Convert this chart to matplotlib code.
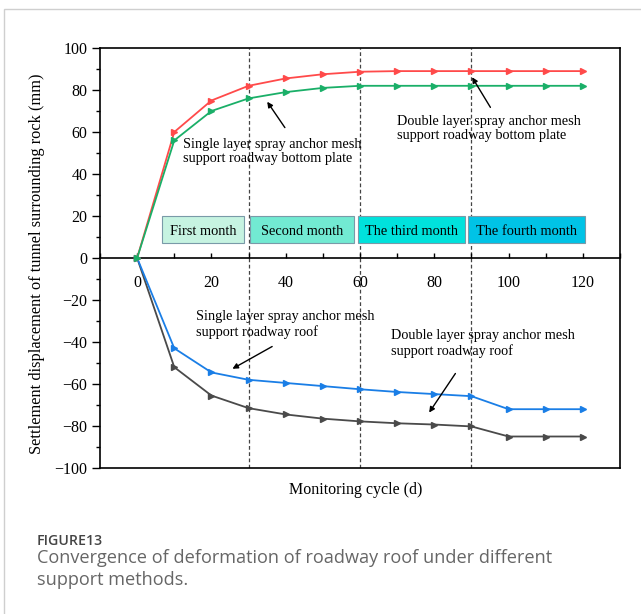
import numpy as np
import matplotlib.pyplot as plt
from matplotlib.patches import Rectangle
from matplotlib.ticker import MultipleLocator

plt.rcParams['font.family'] = ['Liberation Serif', 'DejaVu Serif']
plt.rcParams['axes.unicode_minus'] = True

# monitoring days
days = [0, 10, 20, 30, 40, 50, 60, 70, 80, 90, 100, 110, 120]
# settlement displacement (mm)
double_bottom = [0, 60, 75, 82, 85.5, 87.5, 88.7, 89, 89, 89, 89, 89, 89]
single_bottom = [0, 56, 70, 76, 79, 81, 82, 82, 82, 82, 82, 82, 82]
single_roof = [0, -43, -54.5, -58, -59.5, -61, -62.5, -63.8, -64.8, -65.8, -72, -72, -72]
double_roof = [0, -52, -65.5, -71.5, -74.5, -76.5, -77.8, -78.7, -79.3, -80.2, -85, -85, -85]

months = ['First month', 'Second month', 'The third month', 'The fourth month']
month_x0 = [6.6, 30.4, 59.4, 89.2]
month_x1 = [28.8, 58.5, 88.3, 120.5]
month_colors = ['#c6f3e1', '#72ead2', '#00e2dc', '#00c3e6']
month_lines = [30, 60, 90]

fig = plt.figure(figsize=(6.41, 6.14), dpi=100)
ax = fig.add_axes([100 / 641, 1 - 468 / 614, 520 / 641, 420 / 614])

# roof lines first so the green marker sits on top at day 0
ax.plot(days, double_roof, color='#4a4a4a', marker='>', ms=5, lw=1.3, zorder=3)
ax.plot(days, single_roof, color='#1a7ee6', marker='>', ms=5, lw=1.3, zorder=3)
ax.plot(days, double_bottom, color='#ff4a4a', marker='>', ms=5, lw=1.3, zorder=3)
ax.plot(days, single_bottom, color='#1aaf68', marker='>', ms=5, lw=1.3, zorder=3)

for xv in month_lines:
    ax.axvline(xv, color='#444444', lw=0.9, ls=(0, (3, 2)), zorder=1)

for name, a, b, c in zip(months, month_x0, month_x1, month_colors):
    ax.add_patch(Rectangle((a, 7), b - a, 13, facecolor=c, edgecolor='#7a9aa8', lw=0.8, zorder=2))
    ax.text((a + b) / 2, 12.8, name, ha='center', va='center', fontsize=10.4, zorder=4)

arrow = dict(arrowstyle='-|>', color='black', lw=1.0, mutation_scale=8)
ax.annotate('', xy=(34.6, 75.5), xytext=(40.2, 61), arrowprops=arrow)
ax.text(12.3, 50.7, 'Single layer spray anchor mesh\nsupport roadway bottom plate',
        ha='left', va='center', fontsize=10.3, linespacing=1.15, zorder=4)
ax.annotate('', xy=(89.8, 87.2), xytext=(95.5, 70.6), arrowprops=arrow)
ax.text(70, 61.6, 'Double layer spray anchor mesh\nsupport roadway bottom plate',
        ha='left', va='center', fontsize=10.3, linespacing=1.15, zorder=4)
ax.annotate('', xy=(25, -53.4), xytext=(37, -41.5), arrowprops=arrow)
ax.text(15.8, -31.7, 'Single layer spray anchor mesh\nsupport roadway roof',
        ha='left', va='center', fontsize=10.3, linespacing=1.15, zorder=4)
ax.annotate('', xy=(78.2, -74.7), xytext=(86.1, -53.9), arrowprops=arrow)
ax.text(68.4, -40.8, 'Double layer spray anchor mesh\nsupport roadway roof',
        ha='left', va='center', fontsize=10.3, linespacing=1.15, zorder=4)

ax.set_xlim(-10, 130)
ax.set_ylim(-100, 100)
ax.spines['bottom'].set_position(('data', 0))
ax.axhline(-100, color='black', lw=1.2, clip_on=False)
for s in ax.spines.values():
    s.set_linewidth(1.2)

ax.xaxis.set_major_locator(MultipleLocator(20))
ax.xaxis.set_minor_locator(MultipleLocator(10))
ax.yaxis.set_major_locator(MultipleLocator(20))
ax.yaxis.set_minor_locator(MultipleLocator(10))
ax.tick_params(axis='x', which='both', direction='in', length=3.6, width=1, labelsize=11.5, pad=12.5)
ax.tick_params(axis='y', which='major', direction='out', length=6, width=1, labelsize=11.5, pad=3)
ax.tick_params(axis='y', which='minor', direction='out', length=3, width=1)

fig.text(37 / 641, 1 - 264 / 614, 'Settlement displacement of tunnel surrounding rock (mm)',
         rotation=90, ha='center', va='center', fontsize=11.8)
fig.text(356 / 641, 1 - 490 / 614, 'Monitoring cycle (d)', ha='center', va='center', fontsize=11.5)

# card frame and caption
fig.patches.append(Rectangle((4 / 641, -0.1), 1.2, 1 - 9 / 614 + 0.1, transform=fig.transFigure,
                             fill=False, edgecolor='#cfcfcf', lw=1))
fig.text(37 / 641, 1 - 541 / 614, 'FIGURE13', ha='left', va='center', fontsize=10.2,
         color='#444444', family=['Open Sans', 'DejaVu Sans'], weight='semibold')
fig.text(37 / 641, 1 - 569 / 614,
         'Convergence of deformation of roadway roof under different\nsupport methods.',
         ha='left', va='center', fontsize=13.1, color='#666666', linespacing=1.25,
         family=['Open Sans', 'DejaVu Sans'])

fig.savefig('out.png', dpi=100)
